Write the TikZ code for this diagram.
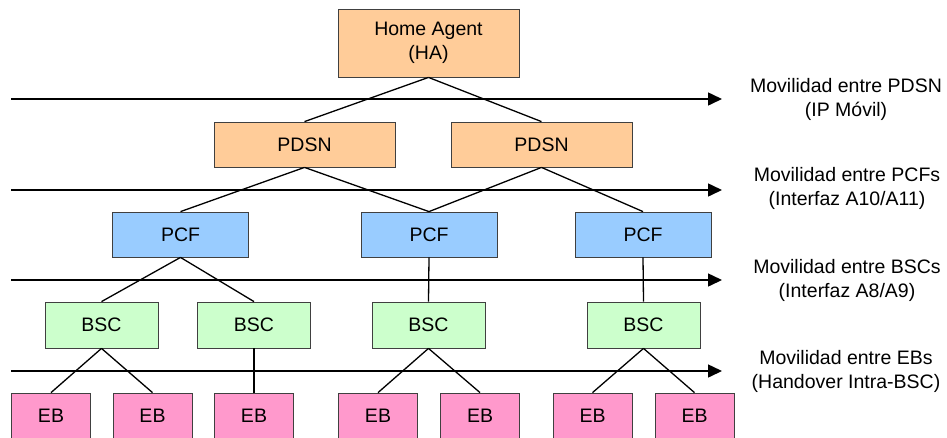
\documentclass[tikz,border=0pt]{standalone}
\usepackage{fontspec}
\setmainfont{Liberation Sans}
\usetikzlibrary{arrows.meta}
\definecolor{orangebox}{HTML}{FFCC99}
\definecolor{bluebox}{HTML}{99CCFF}
\definecolor{greenbox}{HTML}{CCFFCC}
\definecolor{pinkbox}{HTML}{FF99CC}
\definecolor{boxborder}{HTML}{404040}
\begin{document}
\begin{tikzpicture}[x=1pt,y=-1pt,
  every node/.style={font=\fontsize{19.5}{24}\selectfont},
  box/.style={draw=boxborder, line width=0.8pt, inner sep=0pt, align=center, minimum height=45pt},
  hanode/.style={box, fill=orangebox, minimum width=181pt, minimum height=68pt},
  pdsnnode/.style={box, fill=orangebox, minimum width=181pt},
  pcfnode/.style={box, fill=bluebox, minimum width=136pt},
  bscnode/.style={box, fill=greenbox, minimum width=113pt, minimum height=46pt},
  ebnode/.style={box, fill=pinkbox, minimum width=79pt},
  link/.style={line width=1.3pt, black},
  level/.style={line width=1.5pt, black, -{Triangle[length=14pt,width=13pt]}},
  lbl/.style={align=center, inner sep=0pt}
]
\path[use as bounding box] (0,0) rectangle (947,437);
\clip (0,0) rectangle (947,437);

% level arrows
\coordinate (a1s) at (11,99);  \coordinate (a1e) at (722,99);
\coordinate (a2s) at (11,190); \coordinate (a2e) at (722,190);
\coordinate (a3s) at (11,280); \coordinate (a3e) at (722,280);
\coordinate (a4s) at (11,371); \coordinate (a4e) at (722,371);
\draw[level] (a1s) -- (a1e);
\draw[level] (a2s) -- (a2e);
\draw[level] (a3s) -- (a3e);
\draw[level] (a4s) -- (a4e);

% nodes
\node[hanode] (ha) at (428.5,43) {Home Agent\\(HA)};
\node[pdsnnode] (pdsn1) at (304.5,144.5) {PDSN};
\node[pdsnnode] (pdsn2) at (541.5,144.5) {PDSN};
\node[pcfnode] (pcf1) at (180.5,234.5) {PCF};
\node[pcfnode] (pcf2) at (429,234.5) {PCF};
\node[pcfnode] (pcf3) at (643,234.5) {PCF};
\node[bscnode] (bsc1) at (101.5,325) {BSC};
\node[bscnode] (bsc2) at (254,325) {BSC};
\node[bscnode] (bsc3) at (428.5,325) {BSC};
\node[bscnode] (bsc4) at (643.5,325) {BSC};
\node[ebnode] (eb1) at (51,415.5) {EB};
\node[ebnode] (eb2) at (152.5,415.5) {EB};
\node[ebnode] (eb3) at (254,415.5) {EB};
\node[ebnode] (eb4) at (378,415.5) {EB};
\node[ebnode] (eb5) at (480,415.5) {EB};
\node[ebnode] (eb6) at (592.5,415.5) {EB};
\node[ebnode] (eb7) at (694.5,415.5) {EB};

% links
\draw[link] (ha.south) -- (pdsn1.north);
\draw[link] (ha.south) -- (pdsn2.north);
\draw[link] (pdsn1.south) -- (pcf1.north);
\draw[link] (pdsn1.south) -- (pcf2.north);
\draw[link] (pdsn2.south) -- (pcf2.north);
\draw[link] (pdsn2.south) -- (pcf3.north);
\draw[link] (pcf1.south) -- (bsc1.north);
\draw[link] (pcf1.south) -- (bsc2.north);
\draw[link] (pcf2.south) -- (bsc3.north);
\draw[link] (pcf3.south) -- (bsc4.north);
\draw[link] (bsc1.south) -- (eb1.north);
\draw[link] (bsc1.south) -- (eb2.north);
\draw[link] (bsc2.south) -- (eb3.north);
\draw[link] (bsc3.south) -- (eb4.north);
\draw[link] (bsc3.south) -- (eb5.north);
\draw[link] (bsc4.south) -- (eb6.north);
\draw[link] (bsc4.south) -- (eb7.north);

% labels
\node[lbl] (l1) at (846,99) {Movilidad entre PDSN\\(IP Móvil)};
\node[lbl] (l2) at (847,188) {Movilidad entre PCFs\\(Interfaz A10/A11)};
\node[lbl] (l3) at (847,280) {Movilidad entre BSCs\\(Interfaz A8/A9)};
\node[lbl] (l4) at (846,371) {Movilidad entre EBs\\(Handover Intra-BSC)};
\end{tikzpicture}
\end{document}
